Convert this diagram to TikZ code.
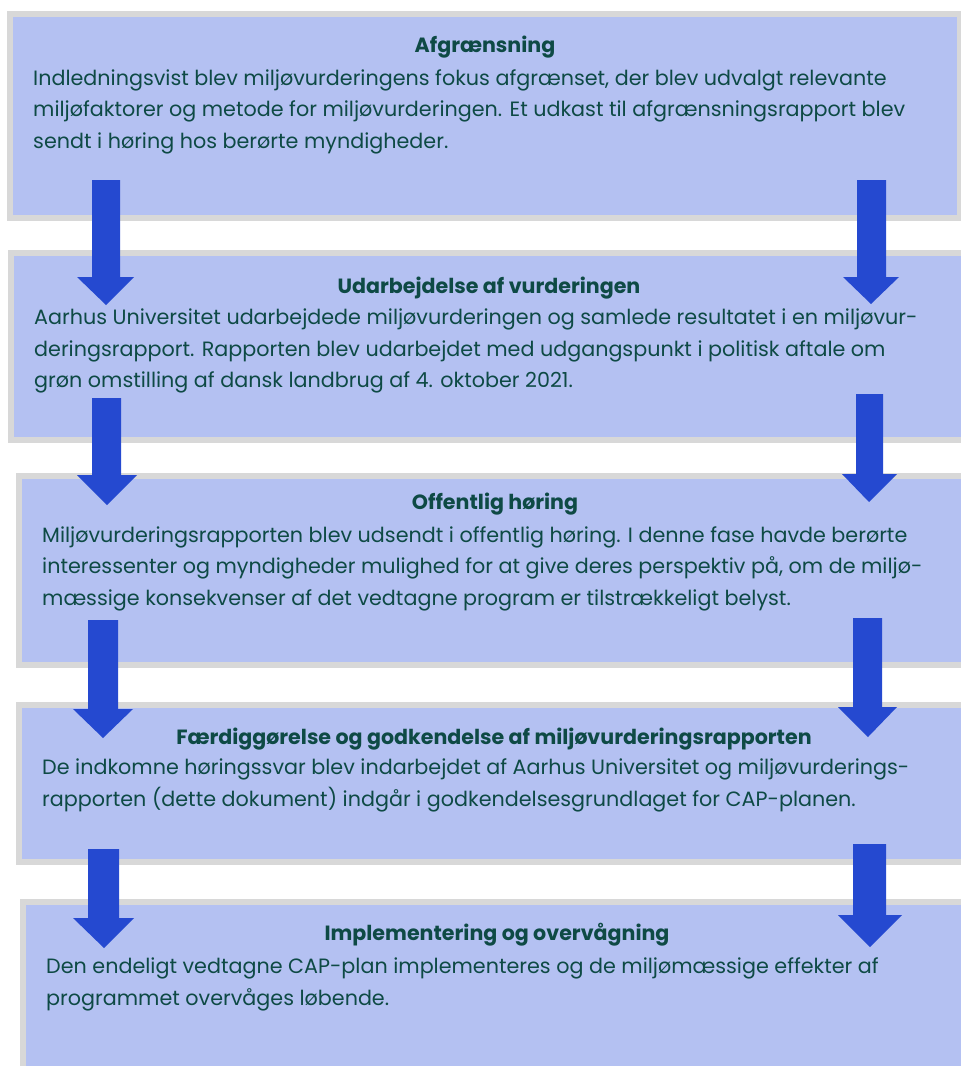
\documentclass[tikz,border=0pt]{standalone}
\usepackage{fontspec}
\setmainfont{Poppins}
\definecolor{boxfill}{HTML}{B4C1F2}
\definecolor{boxline}{HTML}{D8D8D8}
\definecolor{arrowblue}{HTML}{2549D0}
\definecolor{txt}{HTML}{0E4A45}
\newcommand\blkarrow[8]{%
  \fill[arrowblue] (#1,#3) -- (#1,#6) -- (#4,#6) -- (#7,#8) -- (#5,#6) -- (#2,#6) -- (#2,#3) -- cycle;}
\begin{document}
\begin{tikzpicture}[x=1pt,y=-1pt,
  stagebox/.style={draw=boxline,fill=boxfill,line width=6pt},
  titletext/.style={text=txt,font=\fontsize{20.6}{31}\selectfont\bfseries,anchor=base,inner sep=0pt},
  bodytext/.style={text=txt,font=\fontsize{20.7}{31.3}\selectfont,anchor=base west,align=left,inner sep=0pt}]
\useasboundingbox (0,0) rectangle (961,1066);
% boxes
\path[stagebox] (10,14) rectangle (960,218);
\path[stagebox] (11,253) rectangle (975,440);
\path[stagebox] (19,476) rectangle (975,665);
\path[stagebox] (19,705) rectangle (975,862);
\path[stagebox] (23,902) rectangle (975,1085);
% texts (body nodes are placed at the baseline of their last line)
\node[titletext] (t1) at (485,52) {Afgrænsning};
\node[bodytext] (b1) at (33,148) {Indledningsvist blev miljøvurderingens fokus afgrænset, der blev udvalgt relevante\\miljøfaktorer og metode for miljøvurderingen. Et udkast til afgrænsningsrapport blev\\sendt i høring hos berørte myndigheder.};
\node[titletext] (t2) at (489,293) {Udarbejdelse af vurderingen};
\node[bodytext] (b2) at (34,387.5) {Aarhus Universitet udarbejdede miljøvurderingen og samlede resultatet i en miljøvur-\\deringsrapport. Rapporten blev udarbejdet med udgangspunkt i politisk aftale om\\grøn omstilling af dansk landbrug af 4. oktober 2021.};
\node[titletext] (t3) at (495,509) {Offentlig høring};
\node[bodytext] (b3) at (42,605) {Miljøvurderingsrapporten blev udsendt i offentlig høring. I denne fase havde berørte\\interessenter og myndigheder mulighed for at give deres perspektiv på, om de miljø-\\mæssige konsekvenser af det vedtagne program er tilstrækkeligt belyst.};
\node[titletext] (t4) at (494,744) {Færdiggørelse og godkendelse af miljøvurderingsrapporten};
\node[bodytext] (b4) at (42,806) {De indkomne høringssvar blev indarbejdet af Aarhus Universitet og miljøvurderings-\\rapporten (dette dokument) indgår i godkendelsesgrundlaget for CAP-planen.};
\node[titletext] (t5) at (497,940) {Implementering og overvågning};
\node[bodytext] (b5) at (46,1005) {Den endeligt vedtagne CAP-plan implementeres og de miljømæssige effekter af\\programmet overvåges løbende.};
% arrows
\blkarrow{92}{120}{180}{77}{134}{277}{106}{305}
\blkarrow{857}{886}{180}{843}{899}{277}{871}{304}
\blkarrow{92}{121}{398}{77}{137}{475}{107}{505}
\blkarrow{856}{883}{394}{842}{897}{474}{869}{502}
\blkarrow{88}{118}{620}{73}{133}{709}{103}{738}
\blkarrow{853}{882}{618}{838}{897}{707}{868}{737}
\blkarrow{88}{119}{849}{73}{134}{918}{104}{948}
\blkarrow{853}{886}{844}{838}{902}{915}{870}{947}
\end{tikzpicture}
\end{document}
